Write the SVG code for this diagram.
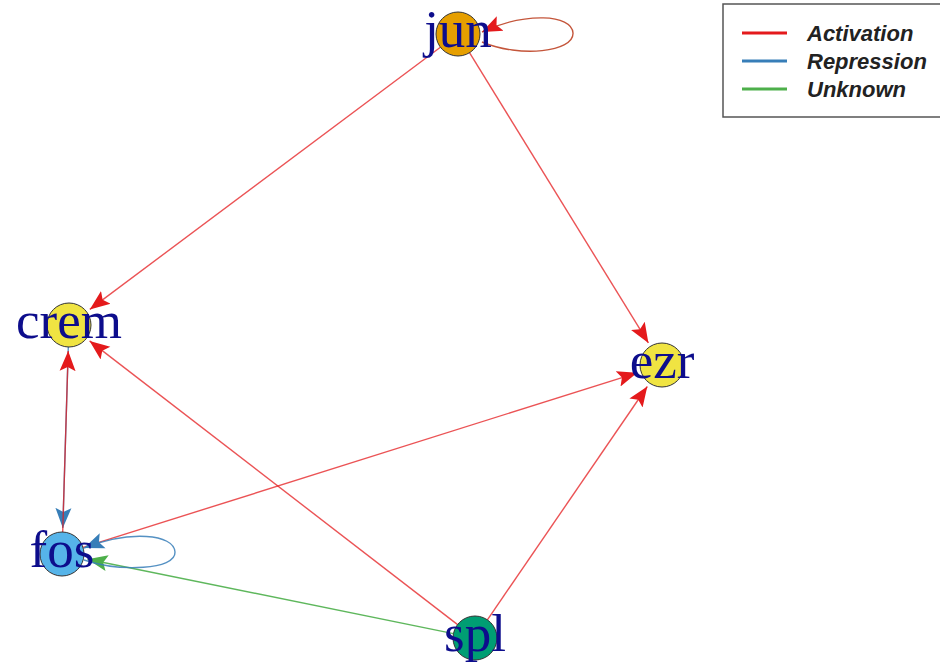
<svg xmlns="http://www.w3.org/2000/svg" width="940" height="671" viewBox="0 0 940 671">
<style>
.e{fill:none;stroke-width:1.4}
.r{stroke:#E41A1C;stroke-opacity:0.75}
.b{stroke:#377EB8;stroke-opacity:0.85}
.g{stroke:#4DAF4A;stroke-opacity:0.9}
.n{stroke:#333;stroke-width:1}
.lab{font-family:"Liberation Serif","Times New Roman",serif;font-size:53px;fill:#0d0d8c;text-anchor:middle}
.leg{font-family:"Liberation Sans",Arial,sans-serif;font-size:22px;font-weight:bold;font-style:italic;fill:#222}
</style>
<defs>
<marker id="ar" markerUnits="userSpaceOnUse" markerWidth="22" markerHeight="18" viewBox="0 -9 22 18" refX="20" refY="0" orient="auto"><path d="M0,-8 L20,0 L0,8 L4,0 z" fill="#E41A1C"/></marker>
<marker id="ab" markerUnits="userSpaceOnUse" markerWidth="22" markerHeight="18" viewBox="0 -9 22 18" refX="20" refY="0" orient="auto"><path d="M0,-8 L20,0 L0,8 L4,0 z" fill="#377EB8"/></marker>
<marker id="ag" markerUnits="userSpaceOnUse" markerWidth="22" markerHeight="18" viewBox="0 -9 22 18" refX="20" refY="0" orient="auto"><path d="M0,-8 L20,0 L0,8 L4,0 z" fill="#4DAF4A"/></marker>
</defs>
<rect width="940" height="671" fill="#fff"/>
<g id="connectors">
<line class="e r" x1="440.4" y1="47.2" x2="89.8" y2="309.4" marker-end="url(#ar)"/>
<line class="e r" x1="469.5" y1="52.7" x2="648.4" y2="342.9" marker-end="url(#ar)"/>
<line class="e r" x1="457.6" y1="624.6" x2="89.6" y2="340.9" marker-end="url(#ar)"/>
<line class="e r" x1="487.4" y1="619.8" x2="647.3" y2="386.5" marker-end="url(#ar)"/>
<line class="e r" x1="83" y1="547.4" x2="637.2" y2="372.8" marker-end="url(#ar)"/>
<line class="e g" x1="453.4" y1="633.6" x2="87.5" y2="559.2" marker-end="url(#ag)"/>
<line class="e b" x1="68.3" y1="347" x2="62.8" y2="528" marker-end="url(#ab)"/>
<line class="e r" x1="62.7" y1="532" x2="68.2" y2="351" marker-end="url(#ar)"/>
<path class="e b" d="M84,560 C120,572 176,570 175,552 C174,534 130,530 84,548" marker-end="url(#ab)"/>
<path class="e" stroke="#C4553A" d="M482,42 C520,58 574,52 573,33 C572,14 525,12 482,32" marker-end="url(#ar)"/>
</g>
<g id="node-jun"><circle class="n" cx="458" cy="34" r="22" fill="#E69F00"/><text class="lab" x="458" y="47">jun</text></g>
<g id="node-crem"><circle class="n" cx="69" cy="325" r="22" fill="#F0E442"/><text class="lab" x="69" y="338">crem</text></g>
<g id="node-ezr"><circle class="n" cx="662" cy="365" r="22" fill="#F0E442"/><text class="lab" x="662" y="378">ezr</text></g>
<g id="node-fos"><circle class="n" cx="62" cy="554" r="22" fill="#56B4E9"/><text class="lab" x="62" y="567">fos</text></g>
<g id="node-spl"><circle class="n" cx="475" cy="638" r="22" fill="#009E73"/><text class="lab" x="475" y="651">spl</text></g>
<g id="legend">
<rect x="723" y="4" width="230" height="113" fill="#fff" stroke="#555" stroke-width="1.5"/>
<line x1="742" y1="33" x2="787" y2="33" stroke="#E41A1C" stroke-width="3"/>
<line x1="742" y1="61" x2="787" y2="61" stroke="#377EB8" stroke-width="3"/>
<line x1="742" y1="89" x2="787" y2="89" stroke="#4DAF4A" stroke-width="3"/>
<text class="leg" x="807" y="41">Activation</text>
<text class="leg" x="807" y="69">Repression</text>
<text class="leg" x="807" y="97">Unknown</text>
</g>
</svg>
